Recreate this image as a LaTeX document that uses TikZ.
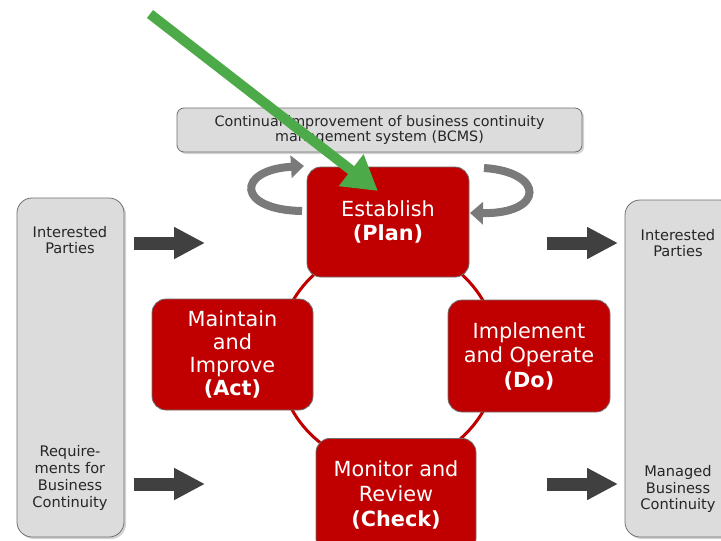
\documentclass[tikz,border=0pt]{standalone}
\usepackage{fontspec}
\setmainfont{DejaVu Sans}
\usetikzlibrary{arrows.meta,shadows}
\definecolor{boxred}{HTML}{C00000}
\definecolor{boxgrey}{HTML}{DCDCDC}
\definecolor{edgegrey}{HTML}{6F6F6F}
\definecolor{arrowdark}{HTML}{404040}
\definecolor{greenarrow}{HTML}{4CAA48}
\definecolor{curlgrey}{HTML}{7A7A7A}
\tikzset{
  redbox/.style={draw=edgegrey, line width=0.8pt, fill=boxred, rounded corners=14pt,
    text=white, align=center, font=\fontsize{20.8}{24.5}\selectfont, inner sep=0pt},
  greybox/.style={draw=edgegrey, line width=0.8pt, fill=boxgrey, rounded corners=#1,
    drop shadow={shadow xshift=2pt, shadow yshift=-2pt, opacity=0.35}},
  greybox/.default=7pt,
  smalltext/.style={align=center, text=black!85, font=\fontsize{14.6}{16.8}\selectfont, inner sep=0pt},
  toptextstyle/.style={align=center, text=black!85, font=\fontsize{14.3}{15.5}\selectfont, inner sep=0pt},
  blockarrow/.style={draw=arrowdark, line width=13pt, -{Triangle[length=31pt,width=30pt]}},
  curlarrow/.style={draw=curlgrey, line width=8pt, -{Triangle[length=13pt,width=22pt]}},
}
\begin{document}
\begin{tikzpicture}[x=1pt,y=-1pt]
\useasboundingbox (0,0) rectangle (721,541);
\clip (0,0) rectangle (721,541);
% grey boxes
\node[greybox, minimum width=405pt, minimum height=44pt] (top) at (379.5,130) {};
\node[toptextstyle] (toptext) at (379.5,130) {Continual improvement of business continuity\\management system (BCMS)};
\node[greybox=15pt, minimum width=107pt, minimum height=339pt] (left) at (70.5,367.5) {};
\node[greybox=15pt, minimum width=110pt, minimum height=337pt] (right) at (680,368.5) {};
\node[smalltext] (lt1) at (70,240) {Interested\\Parties};
\node[smalltext] (lt2) at (70,478) {Require-\\ments for\\Business\\Continuity};
\node[smalltext] (rt1) at (678,243) {Interested\\Parties};
\node[smalltext] (rt2) at (678,489) {Managed\\Business\\Continuity};
% circle
\draw[boxred, line width=3pt] (388,356) circle (110);
% red boxes
\node[redbox, minimum width=162pt, minimum height=110pt] (plan) at (388,222) {Establish\\\textbf{(Plan)}};
\node[redbox, minimum width=161pt, minimum height=111pt, font=\fontsize{20.8}{23.2}\selectfont] (act) at (232.5,354.5) {Maintain\\and\\Improve\\\textbf{(Act)}};
\node[redbox, minimum width=162pt, minimum height=112pt] (do) at (529,356) {Implement\\and Operate\\\textbf{(Do)}};
\node[redbox, minimum width=160pt, minimum height=114pt, anchor=north] (check) at (396,438) {};
\node[text=white, align=center, font=\fontsize{20.8}{25}\selectfont, inner sep=0pt] (checktext) at (396,495) {Monitor and\\Review\\\textbf{(Check)}};
% block arrows
\coordinate (a1s) at (134,243); \coordinate (a1e) at (205,243);
\coordinate (a2s) at (134,484); \coordinate (a2e) at (205,484);
\coordinate (a3s) at (547,243); \coordinate (a3e) at (618,243);
\coordinate (a4s) at (547,484); \coordinate (a4e) at (618,484);
\draw[blockarrow] (a1s) -- (a1e);
\draw[blockarrow] (a2s) -- (a2e);
\draw[blockarrow] (a3s) -- (a3e);
\draw[blockarrow] (a4s) -- (a4e);
% curl arrows
\coordinate (c1s) at (302,211); \coordinate (c1e) at (304,166);
\coordinate (c2s) at (484,168); \coordinate (c2e) at (470,213);
\draw[curlarrow] (c1s) .. controls (236,210) and (236,170) .. (c1e);
\draw[curlarrow] (c2s) .. controls (545,172) and (545,214) .. (c2e);
% green arrow
\coordinate (gs) at (150,14); \coordinate (ge) at (378,191);
\draw[greenarrow, line width=10pt, -{Triangle[length=34pt,width=38pt]}] (gs) -- (ge);
\end{tikzpicture}
\end{document}
